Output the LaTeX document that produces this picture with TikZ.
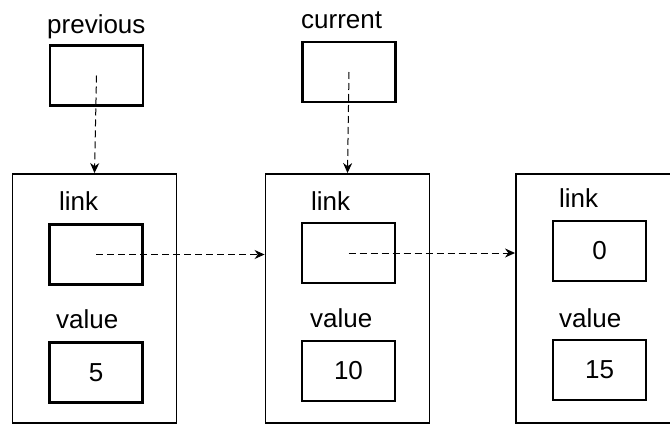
\documentclass[tikz,border=0pt]{standalone}
\usepackage{fontspec}
\setmainfont{Liberation Sans}
\usetikzlibrary{arrows.meta}
\begin{document}
\begin{tikzpicture}[x=1pt,y=-1pt]
	\tikzset{cell/.style={draw,line width=2.2pt,minimum width=93pt,minimum height=60pt,inner sep=0pt,font=\fontsize{26}{30}\selectfont},
		record/.style={draw,line width=1.9pt,minimum width=164pt,minimum height=249pt,inner sep=0pt},
		tag/.style={anchor=base west,inner sep=0pt,font=\fontsize{26}{30}\selectfont},
		pointer/.style={line width=1pt,dash pattern=on 7pt off 4pt,-{Stealth[length=10pt,width=9pt]}}}
	\clip (0,0) rectangle (670,426);
	% pointers
	\node[tag] (prevname) at (47,33) {previous};
	\node[tag] (curname) at (301,28) {current};
	\node[cell] (prev) at (96.5,75.5) {};
	\node[cell] (cur) at (349,72) {};
	% list nodes
	\node[record] (rec1) at (94.5,298.5) {};
	\node[record] (rec2) at (347.5,298.5) {};
	\node[record,minimum width=180pt] (rec3) at (606,298.5) {};
	\node[tag] (link1) at (59,210) {link};
	\node[tag] (value1) at (56,328) {value};
	\node[tag] (link2) at (311,210) {link};
	\node[tag] (value2) at (310,327) {value};
	\node[tag] (link3) at (559,207) {link};
	\node[tag] (value3) at (559,327) {value};
	\node[cell] (next1) at (96,254.5) {};
	\node[cell] (data1) at (96,372.5) {5};
	\node[cell] (next2) at (348.5,253) {};
	\node[cell] (data2) at (348.5,371) {10};
	\node[cell] (next3) at (599.5,251) {0};
	\node[cell] (data3) at (599.5,370) {15};
	% arrows
	\draw[pointer] (prev.center) -- (rec1.north);
	\draw[pointer] (cur.center) -- (rec2.north);
	\draw[pointer] (next1.center) -- (next1.center -| rec2.west);
	\draw[pointer] (next2.center) -- (next2.center -| rec3.west);
\end{tikzpicture}
\end{document}
